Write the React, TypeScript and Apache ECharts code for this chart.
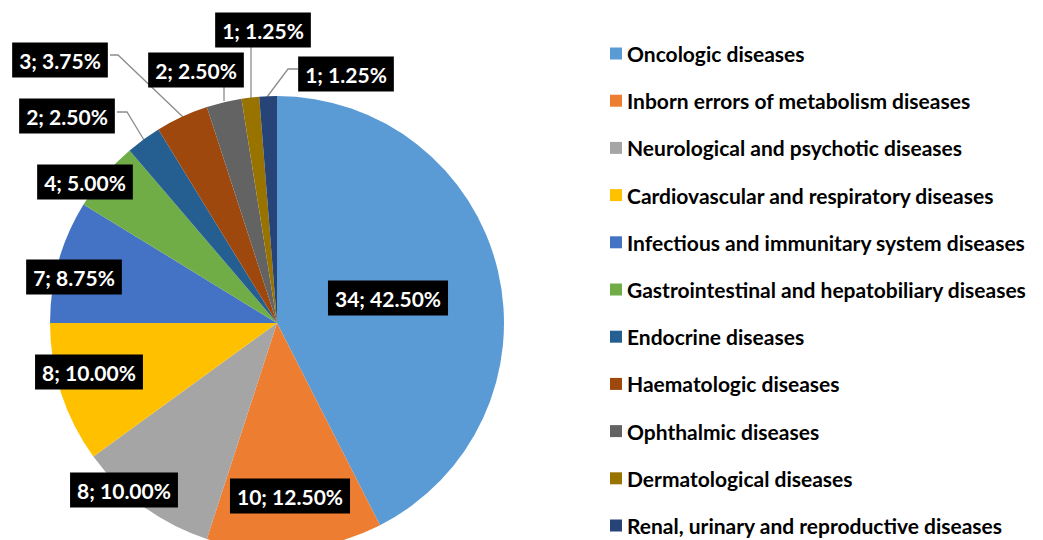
import React, { useEffect, useRef } from "react";
import * as echarts from "echarts";

const categories = [
  "Oncologic diseases",
  "Inborn errors of metabolism diseases",
  "Neurological and psychotic diseases",
  "Cardiovascular and respiratory diseases",
  "Infectious and immunitary system diseases",
  "Gastrointestinal and hepatobiliary diseases",
  "Endocrine diseases",
  "Haematologic diseases",
  "Ophthalmic diseases",
  "Dermatological diseases",
  "Renal, urinary and reproductive diseases",
];
const counts = [34, 10, 8, 8, 7, 4, 2, 3, 2, 1, 1];
const colors = [
  "#5B9BD5", "#ED7D31", "#A5A5A5", "#FFC000", "#4472C4", "#70AD47",
  "#255E91", "#9E480E", "#636363", "#997300", "#264478",
];

// label box centres (layout, pixels)
const labelCenters: [number, number][] = [
  [388, 298], [290, 496], [124, 490], [89, 372], [74, 277], [85, 182],
  [67, 116], [60, 60], [196, 70], [263, 30], [346, 74],
];
// leader lines for outside labels (layout, pixels)
const leaderLines: Record<number, [number, number][]> = {
  6: [[144, 140], [127, 112], [117, 112]],
  7: [[183, 117], [118, 55], [110, 55]],
  8: [[224, 101], [224, 94], [224, 87]],
  9: [[251, 98], [251, 70], [251, 47]],
  10: [[267, 97], [288, 69], [298, 69]],
};

const FONT = "Lato, 'Noto Sans', sans-serif";

export default function App() {
  const ref = useRef<HTMLDivElement>(null);
  useEffect(() => {
    if (!ref.current) return;
    const chart = echarts.init(ref.current, null, { renderer: "svg" });
    const data = categories.map((name, i) => {
      const outside = i in leaderLines;
      return {
        name,
        value: counts[i],
        itemStyle: { color: colors[i] },
        label: { position: outside ? "outside" : "inside" },
        labelLine: { show: outside },
      };
    });
    chart.setOption({
      animation: false,
      backgroundColor: "#ffffff",
      legend: {
        type: "plain",
        orient: "vertical",
        left: 610,
        top: 43,
        height: 600,
        padding: 0,
        itemWidth: 12,
        itemHeight: 12,
        itemGap: 26.2,
        icon: "rect",
        data: categories,
        textStyle: {
          fontFamily: FONT,
          fontWeight: "bold",
          fontSize: 21,
          lineHeight: 20,
          color: "#000",
        },
      },
      series: [
        {
          type: "pie",
          center: [277, 323],
          radius: 227,
          startAngle: 90,
          clockwise: true,
          avoidLabelOverlap: false,
          data,
          label: {
            show: true,
            formatter: (p: any) => `${p.value}; ${p.percent.toFixed(2)}%`,
            backgroundColor: "#000",
            color: "#fff",
            fontFamily: FONT,
            fontWeight: "bold",
            fontSize: 21,
            lineHeight: 23,
            padding: [6, 7, 6, 7],
          },
          labelLine: {
            lineStyle: { color: "#8c8c8c", width: 1.3 },
          },
          labelLayout: (params: any) => {
            const i = params.dataIndex;
            const [x, y] = labelCenters[i];
            const res: any = { x, y, align: "center", verticalAlign: "middle" };
            if (leaderLines[i]) res.labelLinePoints = leaderLines[i];
            return res;
          },
          emphasis: { disabled: true },
        },
      ],
    });
    return () => chart.dispose();
  }, []);
  return (
    <div
      ref={ref}
      style={{ position: "fixed", left: 0, top: 0, width: 1043, height: 540 }}
    />
  );
}
